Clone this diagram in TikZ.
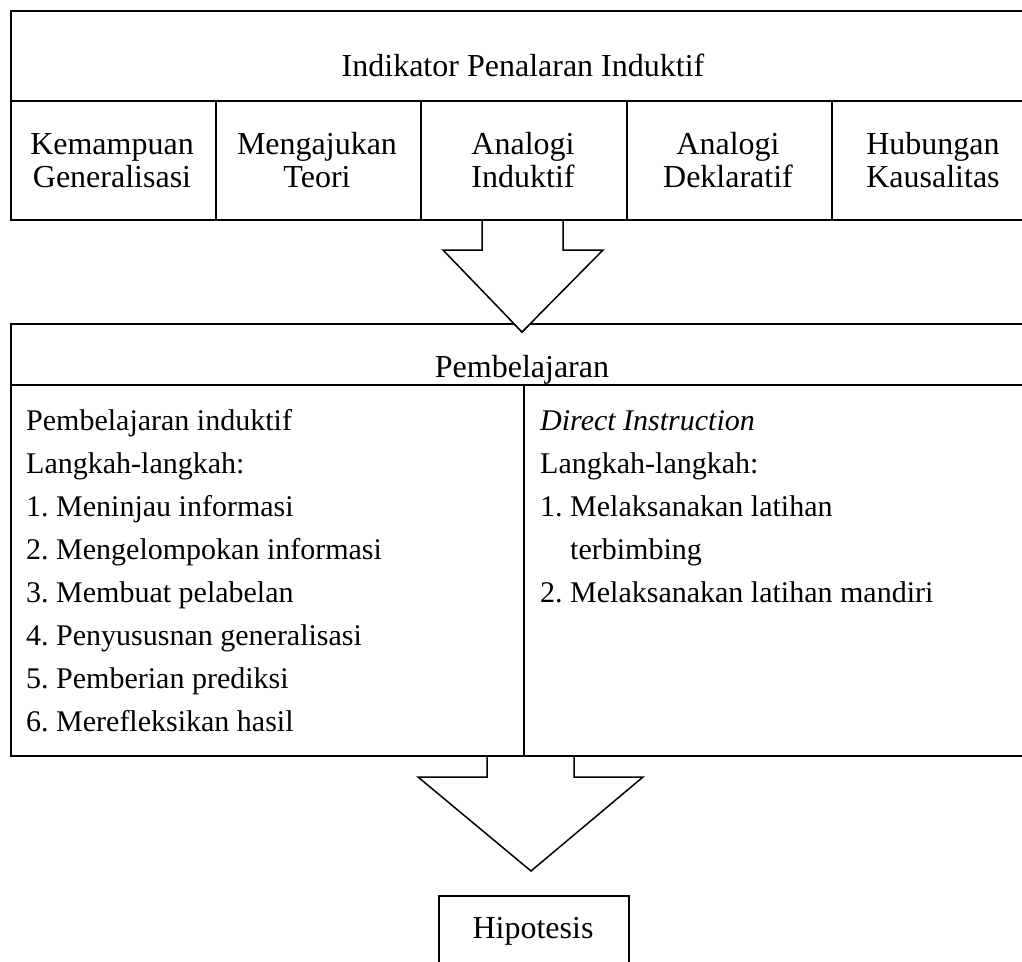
\documentclass[tikz,border=0pt]{standalone}
\usepackage{fontspec}
\setmainfont{Liberation Serif}
\frenchspacing
\begin{document}
\begin{tikzpicture}[x=1pt,y=-1pt,
  boxline/.style={draw=black,line width=1.5pt},
  cell/.style={boxline,rectangle,inner sep=0pt,anchor=north west},
  big/.style={font=\fontsize{32}{33}\selectfont,inner sep=0pt,anchor=base},
  lst/.style={font=\fontsize{30}{31}\selectfont,inner sep=0pt,anchor=base west},
  blockarrow/.style={draw=black,line width=1.5pt,fill=white,line join=miter}]
\useasboundingbox (0,0) rectangle (1022,961);
\fill[white] (0,0) rectangle (1022,961);
% block arrows (drawn below the boxes)
\draw[blockarrow] (482,219) -- (482,250) -- (443,250) -- (522,332) -- (603,250) -- (563,250) -- (563,219);
\draw[blockarrow] (487,755) -- (487,777) -- (418,777) -- (531,871) -- (643,777) -- (574,777) -- (574,755);
% top box
\node[cell,minimum width=1026pt,minimum height=90pt] (ind) at (10,10) {};
\node[cell,minimum width=205pt,minimum height=119pt] (c1) at (10,100) {};
\node[cell,minimum width=205pt,minimum height=119pt] (c2) at (215,100) {};
\node[cell,minimum width=206pt,minimum height=119pt] (c3) at (420,100) {};
\node[cell,minimum width=205pt,minimum height=119pt] (c4) at (626,100) {};
\node[cell,minimum width=205pt,minimum height=119pt] (c5) at (831,100) {};
\node[big] (tind) at (523,76) {Indikator Penalaran Induktif};
\node[big] (t1a) at (112,154) {Kemampuan};
\node[big] (t1b) at (112,187) {Generalisasi};
\node[big] (t2a) at (317,154) {Mengajukan};
\node[big] (t2b) at (317,187) {Teori};
\node[big] (t3a) at (523,154) {Analogi};
\node[big] (t3b) at (523,187) {Induktif};
\node[big] (t4a) at (728,154) {Analogi};
\node[big] (t4b) at (728,187) {Deklaratif};
\node[big] (t5a) at (933,154) {Hubungan};
\node[big] (t5b) at (933,187) {Kausalitas};
% middle box
\node[cell,minimum width=1026pt,minimum height=61pt] (pem) at (10,323) {};
\node[cell,minimum width=513pt,minimum height=371pt] (left) at (10,384) {};
\node[cell,minimum width=513pt,minimum height=371pt] (right) at (523,384) {};
\node[big] (tpem) at (522,377) {Pembelajaran};
\node[lst] (l1) at (26,430) {Pembelajaran induktif};
\node[lst] (l2) at (26,473) {Langkah-langkah:};
\node[lst] (l3) at (26,516) {1. Meninjau informasi};
\node[lst] (l4) at (26,559) {2. Mengelompokan informasi};
\node[lst] (l5) at (26,602) {3. Membuat pelabelan};
\node[lst] (l6) at (26,645) {4. Penyususnan generalisasi};
\node[lst] (l7) at (26,688) {5. Pemberian prediksi};
\node[lst] (l8) at (26,731) {6. Merefleksikan hasil};
\node[lst] (r1) at (540,430) {\itshape Direct Instruction};
\node[lst] (r2) at (540,473) {Langkah-langkah:};
\node[lst] (r3) at (540,516) {1. Melaksanakan latihan};
\node[lst] (r4) at (570,559) {terbimbing};
\node[lst] (r5) at (540,602) {2. Melaksanakan latihan mandiri};
% bottom box
\node[cell,minimum width=190pt,minimum height=80pt] (hip) at (438,895) {};
\node[big] (thip) at (533,938) {Hipotesis};
% tip of the first arrow lies over the top line of the Pembelajaran box
\begin{scope}
  \clip (400,320) rectangle (650,340);
  \draw[blockarrow] (482,219) -- (482,250) -- (443,250) -- (522,332) -- (603,250) -- (563,250) -- (563,219);
\end{scope}
\end{tikzpicture}
\end{document}
